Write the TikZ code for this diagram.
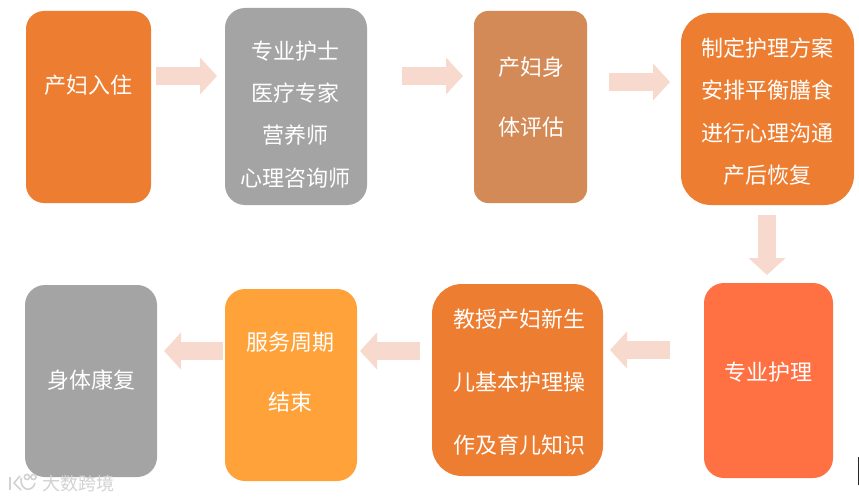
\documentclass[tikz,border=0pt]{standalone}
\usepackage{fontspec}
\usetikzlibrary{arrows.meta}
\newfontfamily\cjk{Noto Sans CJK SC}
\definecolor{orangeA}{HTML}{ED7D31}
\definecolor{grayA}{HTML}{A4A4A4}
\definecolor{tanA}{HTML}{D48A56}
\definecolor{redA}{HTML}{FF7043}
\definecolor{yellowA}{HTML}{FFA23A}
\definecolor{arrowA}{HTML}{F8D9CE}
\definecolor{markA}{HTML}{D2D2D2}
\tikzset{
  card/.style={inner sep=0pt,outer sep=0pt,rounded corners=#1},
  card/.default=18pt,
  cardtext/.style={text=white,align=center,inner sep=0pt,font=\cjk\fontsize{22}{#1}\selectfont},
  cardtext/.default=42.3pt,
  flow/.style={draw=arrowA,line width=17.5pt,-{Triangle[length=17pt,width=36pt,color=arrowA]}},
  wmark/.style={text=markA,inner sep=0pt,font=\cjk\fontsize{18}{18}\selectfont},
  wline/.style={draw=markA,line width=1.6pt}
}
\begin{document}
\begin{tikzpicture}[x=1pt,y=-1pt]
\useasboundingbox (0,0) rectangle (859,500);
\fill[white] (0,0) rectangle (859,500);
% boxes
\node[card,fill=orangeA,minimum width=125pt,minimum height=192pt] (b1) at (88.5,107) {};
\node[card=20pt,fill=grayA,minimum width=142pt,minimum height=197pt] (b2) at (296,106.5) {};
\node[card=14pt,fill=tanA,minimum width=113pt,minimum height=192pt] (b3) at (530.5,107) {};
\node[card=30pt,fill=orangeA,minimum width=173pt,minimum height=192pt] (b4) at (767.5,109) {};
\node[card=20pt,fill=redA,minimum width=129pt,minimum height=195pt] (b5) at (768.5,380.5) {};
\node[card=30pt,fill=orangeA,minimum width=171pt,minimum height=192pt] (b6) at (517.5,380) {};
\node[card=20pt,fill=yellowA,minimum width=132pt,minimum height=192pt] (b7) at (291,385) {};
\node[card=20pt,fill=grayA,minimum width=132pt,minimum height=192pt] (b8) at (91,381) {};
% texts
\node[cardtext] (t1) at (88,85.5) {产妇入住};
\node[cardtext] (t2) at (295,114.5) {专业护士\\医疗专家\\营养师\\心理咨询师};
\node[cardtext=60pt] (t3) at (531,97.5) {产妇身\\体评估};
\node[cardtext] (t4) at (767,111.5) {制定护理方案\\安排平衡膳食\\进行心理沟通\\产后恢复};
\node[cardtext] (t5) at (768,372.5) {专业护理};
\node[cardtext=63pt] (t6) at (519,382) {教授产妇新生\\儿基本护理操\\作及育儿知识};
\node[cardtext=60pt] (t7) at (290,372) {服务周期\\结束};
\node[cardtext] (t8) at (91,380.5) {身体康复};
% connector ends
\coordinate (a1) at (156,76);  \coordinate (a2) at (217,76);
\coordinate (c1) at (402,76);  \coordinate (c2) at (463,76);
\coordinate (d1) at (609,82);  \coordinate (d2) at (670,82);
\coordinate (e1) at (767,215); \coordinate (e2) at (767,275);
\coordinate (f1) at (670,350); \coordinate (f2) at (610,350);
\coordinate (g1) at (420,351); \coordinate (g2) at (360,351);
\coordinate (h1) at (223,351); \coordinate (h2) at (164,351);
\draw[flow] (a1) -- (a2);
\draw[flow] (c1) -- (c2);
\draw[flow] (d1) -- (d2);
\draw[flow] (e1) -- (e2);
\draw[flow] (f1) -- (f2);
\draw[flow] (g1) -- (g2);
\draw[flow] (h1) -- (h2);
% watermark
\draw[wline] (10,477) -- (10,490);
\draw[wline] (20,476) -- (14,483) -- (21,490);
\draw[wline] (21,478) .. controls (20,492) and (33,492) .. (35,483);
\draw[wline] (27,477) circle (2.6pt);
\draw[wline] (33.5,477) circle (2.6pt);
\node[wmark] (wm) at (78,484) {大数跨境};
% edge mark
\fill[black!85] (858,457) rectangle (859,485);
\end{tikzpicture}
\end{document}
